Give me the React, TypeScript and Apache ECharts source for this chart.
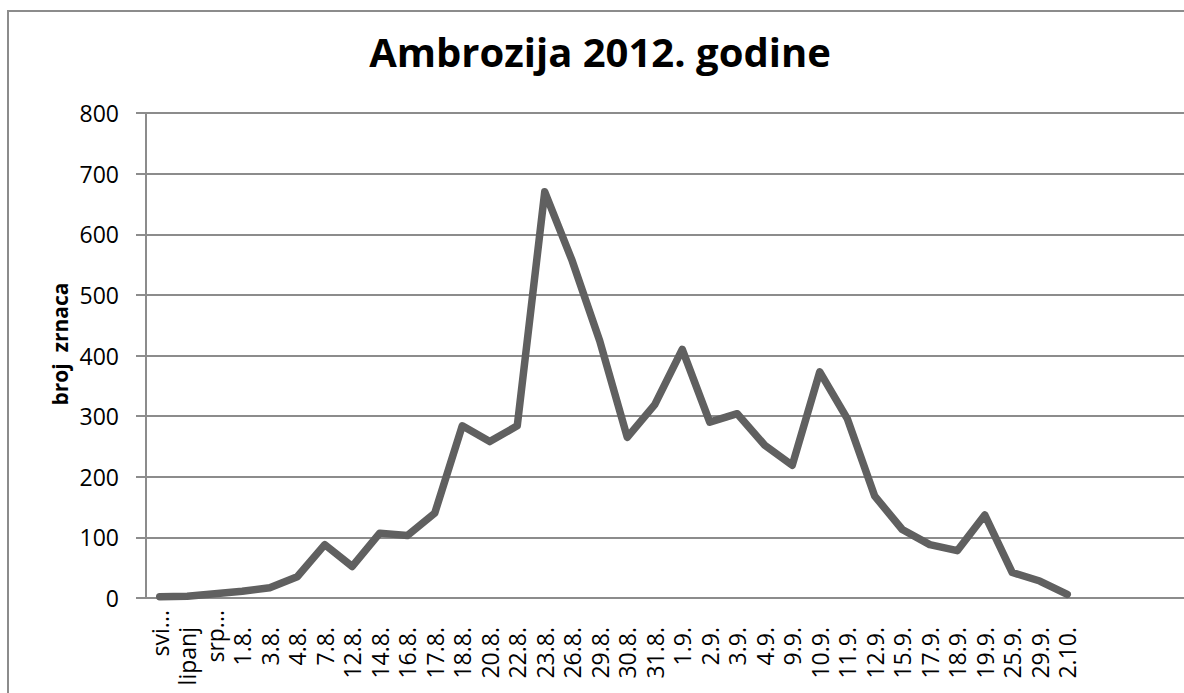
import React, { useEffect, useRef } from "react";
import * as echarts from "echarts";

const titleText = "Ambrozija 2012. godine";
const yAxisTitle = "broj  zrnaca";

const categories: string[] = [
  "svi...", "lipanj", "srp...", "1.8.", "3.8.", "4.8.", "7.8.", "12.8.", "14.8.",
  "16.8.", "17.8.", "18.8.", "20.8.", "22.8.", "23.8.", "26.8.", "29.8.", "30.8.",
  "31.8.", "1.9.", "2.9.", "3.9.", "4.9.", "9.9.", "10.9.", "11.9.", "12.9.",
  "15.9.", "17.9.", "18.9.", "19.9.", "25.9.", "29.9.", "2.10.", "", "", "", "",
];

const counts: (number | null)[] = [
  2, 3, 7, 11, 17, 35, 88, 52, 107, 103, 140, 284, 258, 284, 670, 556, 424, 265,
  319, 410, 290, 304, 252, 219, 373, 296, 168, 113, 88, 78, 137, 42, 28, 6,
  null, null, null, null,
];

const yTicks = { min: 0, max: 800, interval: 100 };

const FONT = "'Open Sans', sans-serif";
const GRID_COLOR = "#8c8c8c";

export default function App() {
  const ref = useRef<HTMLDivElement>(null);

  useEffect(() => {
    if (!ref.current) return;
    const chart = echarts.init(ref.current, undefined, { renderer: "svg" });
    chart.setOption({
      animation: false,
      title: {
        text: titleText,
        left: 600,
        top: 31,
        padding: 0,
        textAlign: "center",
        textStyle: {
          fontFamily: FONT,
          fontSize: 40,
          fontWeight: "bold",
          color: "#000000",
        },
      },
      grid: { left: 146, top: 113, bottom: 95, right: 19, containLabel: false },
      xAxis: {
        type: "category",
        data: categories,
        boundaryGap: true,
        axisLine: { show: true, lineStyle: { color: GRID_COLOR, width: 2 } },
        axisTick: { show: false },
        splitLine: { show: false },
        axisLabel: {
          interval: 0,
          rotate: 90,
          margin: 12,
          color: "#000000",
          fontFamily: FONT,
          fontSize: 23,
          formatter: (v: string) => {
            if (!v) return "";
            return v.endsWith("...") ? `{e|${v}}` : `{n|${v}}`;
          },
          rich: {
            n: { fontFamily: FONT, fontSize: 23, color: "#000000", padding: [0, 17, 0, 0] },
            e: { fontFamily: FONT, fontSize: 23, color: "#000000", padding: [0, 0, 0, 0] },
          },
        },
      },
      yAxis: {
        type: "value",
        min: yTicks.min,
        max: yTicks.max,
        interval: yTicks.interval,
        axisLine: { show: true, lineStyle: { color: GRID_COLOR, width: 2 } },
        axisTick: { show: true, length: 10, inside: false, lineStyle: { color: GRID_COLOR, width: 2 } },
        splitLine: { show: true, lineStyle: { color: GRID_COLOR, width: 2 } },
        axisLabel: {
          margin: 27,
          color: "#000000",
          fontFamily: FONT,
          fontSize: 23,
        },
      },
      graphic: [
        {
          type: "text",
          x: 60,
          y: 344,
          rotation: Math.PI / 2,
          style: {
            text: yAxisTitle,
            align: "center",
            verticalAlign: "middle",
            fontFamily: FONT,
            fontSize: 21,
            fontWeight: "bold",
            fill: "#000000",
          },
        },
      ],
      series: [
        {
          type: "line",
          data: counts,
          symbol: "none",
          showSymbol: false,
          connectNulls: false,
          lineStyle: { color: "#606060", width: 7.5, cap: "round", join: "round" },
          itemStyle: { color: "#606060" },
        },
      ],
    });
    return () => chart.dispose();
  }, []);

  return (
    <div style={{ position: "fixed", left: 0, top: 0, width: 1184, height: 693, overflow: "hidden", background: "#fff" }}>
      <div ref={ref} style={{ position: "absolute", left: 0, top: 0, width: 1210, height: 693 }} />
      <div style={{ position: "absolute", left: 7, top: 10, width: 1177, height: 2, background: GRID_COLOR }} />
      <div style={{ position: "absolute", left: 7, top: 10, width: 2, height: 683, background: GRID_COLOR }} />
    </div>
  );
}
